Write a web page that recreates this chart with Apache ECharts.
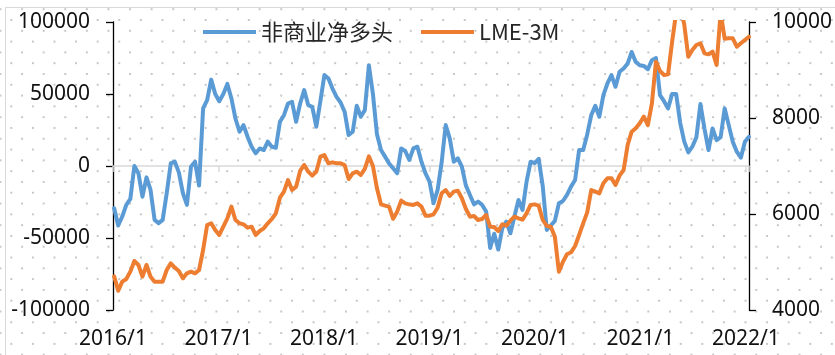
<!DOCTYPE html>
<html>
<head>
<meta charset="utf-8">
<script src="https://cdn.jsdelivr.net/npm/echarts@6/dist/echarts.min.js"></script>
<style>
  html, body { margin: 0; padding: 0; background: #fff; }
  #wrap { position: relative; width: 835px; height: 355px; overflow: hidden; }
  #dots {
    position: absolute; left: 0; top: 0; width: 100%; height: 100%;
    background-image:
      radial-gradient(circle, #c6c6c6 0.9px, rgba(255,255,255,0) 1.4px),
      radial-gradient(circle, #c6c6c6 0.9px, rgba(255,255,255,0) 1.4px);
    background-size: 21.6px 21.6px, 21.6px 21.6px;
    background-position: 0.5px 9.2px, 11.3px 20px;
  }
  #frame {
    position: absolute; left: 5px; top: 7px; width: 900px; height: 400px;
    border-left: 1.5px solid #d9d9d9; border-top: 1.5px solid #d9d9d9;
  }
  #chart { position: absolute; left: 0; top: 0; width: 835px; height: 355px; }
</style>
</head>
<body>
<div id="wrap">
  <div id="dots"></div>
  <div id="frame"></div>
  <div id="chart"></div>
</div>
<script>
// Fortnightly observations, first report 2016-01-05
const firstReport = '2016-01-05';
const stepDays = 14;

// Non-commercial net long positions (contracts)
const netLong = [
  -29300, -41300, -35100, -27000, -22900, 0, -5000, -21300, -7900, -16600, -37400, -39700, -37400,
  -18900, 1800, 3000, -4400, -18900, -27000, -500, 3000, -13600, 40000, 45700, 60000, 50000,
  45000, 50000, 57000, 46900, 33000, 23800, 28400, 20300, 13400, 8800, 12200, 11100, 16900,
  13400, 12700, 30700, 35300, 43400, 44600, 30700, 43400, 52700, 42300, 41100, 27300, 45000,
  63100, 60800, 53800, 48000, 44100, 37700, 21500, 23800, 41800, 34200, 38800, 70000, 50000,
  22000, 11100, 6500, 1800, -1600, -5000, 12200, 10400, 4200, 12200, 13400, 3000, -5100,
  -10900, -25900, -16600, 2500, 28400, 19200, 3000, 5300, -500, -13600, -20100, -26600, -24700,
  -27000, -31600, -57000, -47000, -58000, -43200, -38600, -46700, -35100, -23600, -30500, -10900, 3000,
  2000, 5000, -14000, -44400, -41300, -38100, -25900, -24300, -20100, -14300, -9700, 11100, 11100,
  21900, 35300, 41800, 34200, 49200, 57300, 63100, 55000, 65400, 67700, 71100, 79200, 72300,
  70000, 69500, 67200, 73500, 75000, 49200, 45000, 40000, 50000, 50000, 30000, 16900, 9500,
  13400, 20000, 43000, 26000, 11100, 26100, 18000, 20000, 40000, 28400, 16900, 9900, 5800, 16900, 20300
];

// LME 3-month copper (USD/t)
const lme3M = [
  4700, 4400, 4590, 4646, 4799, 5021, 4938, 4694, 4938, 4694, 4590, 4590, 4590,
  4833, 4972, 4882, 4813, 4660, 4764, 4799, 4764, 4833, 5250, 5771, 5806, 5667,
  5563, 5736, 5910, 6153, 5875, 5806, 5785, 5715, 5736, 5563, 5646, 5701, 5806,
  5896, 6014, 6340, 6465, 6708, 6500, 6569, 6896, 7021, 6882, 6799, 6882, 7194,
  7229, 7056, 7076, 7056, 7056, 7021, 6729, 6847, 6882, 6813, 6938, 7200, 7000,
  6535, 6201, 6174, 6153, 5900, 6049, 6278, 6222, 6201, 6188, 6222, 6153, 5965,
  5965, 5993, 6132, 6431, 6500, 6375, 6465, 6486, 6327, 6104, 5944, 5958, 5875,
  5896, 5979, 5736, 5729, 5646, 5785, 5757, 5861, 5944, 5910, 5882, 6014, 6188,
  6201, 6174, 5875, 5750, 5736, 5528, 4799, 5007, 5160, 5202, 5334, 5563, 5806,
  6035, 6500, 6465, 6431, 6639, 6743, 6743, 6604, 6799, 6917, 7438, 7715, 7785,
  7889, 8028, 7850, 8305, 9174, 8979, 8896, 8910, 9590, 10200, 10300, 9950, 9278,
  9417, 9521, 9556, 9347, 9326, 9382, 9104, 10200, 9650, 9660, 9660, 9486, 9556, 9625, 9694
];

const seriesNames = ['非商业净多头', 'LME-3M'];
const leftTicks = { min: -100000, max: 100000, step: 50000 };
const rightTicks = { min: 4000, max: 10000, step: 2000 };
const firstYear = 2016;

// Report dates -> fractional calendar year for the time scale
const DAY = 86400000;
const yearStart = Date.UTC(firstYear, 0, 1);
const t0 = Date.parse(firstReport + 'T00:00:00Z');
const reportDates = netLong.map((_, i) => t0 + i * stepDays * DAY);
const toYear = t => firstYear + (t - yearStart) / (365.25 * DAY);
const xs = reportDates.map(toYear);
const xMax = xs[xs.length - 1];

const numFont = 'Noto Sans';
const textColor = '#111';
const plain = v => String(v);

const chart = echarts.init(document.getElementById('chart'), null, { renderer: 'canvas' });

const xBase = {
  type: 'value', min: firstYear, max: xMax, interval: 1,
  splitLine: { show: false }
};

chart.setOption({
  backgroundColor: 'transparent',
  animation: false,
  grid: { left: 113, right: 85, top: 22, bottom: 45, containLabel: false },
  legend: {
    left: 203, top: 21, padding: 0,
    icon: 'rect', itemWidth: 53, itemHeight: 4, itemGap: 28,
    textStyle: { fontFamily: 'Noto Sans CJK SC', fontSize: 22, color: '#262626' },
    data: seriesNames
  },
  xAxis: [
    Object.assign({}, xBase, {
      position: 'bottom',
      axisLine: { show: true, onZero: true, onZeroAxisIndex: 0, lineStyle: { color: '#d9d9d9', width: 1.5 } },
      axisTick: { show: true, length: 6, lineStyle: { color: '#d9d9d9', width: 1.5 } },
      axisLabel: { show: false }
    }),
    Object.assign({}, xBase, {
      position: 'bottom',
      axisLine: { show: false, onZero: false },
      axisTick: { show: false },
      axisLabel: {
        show: true, margin: 19,
        fontFamily: numFont, fontSize: 21, color: textColor,
        formatter: v => Math.abs(v - Math.round(v)) < 1e-6 ? Math.round(v) + '/1' : ''
      }
    })
  ],
  yAxis: [
    {
      type: 'value', position: 'left',
      min: leftTicks.min, max: leftTicks.max, interval: leftTicks.step,
      splitLine: { show: false },
      axisLine: { show: true, onZero: false, lineStyle: { color: '#000', width: 1.3 } },
      axisTick: { show: true, length: 7, lineStyle: { color: '#000', width: 1.3 } },
      axisLabel: { margin: 23, fontFamily: numFont, fontSize: 21, color: textColor, formatter: plain }
    },
    {
      type: 'value', position: 'right',
      min: rightTicks.min, max: rightTicks.max, interval: rightTicks.step,
      splitLine: { show: false },
      axisLine: { show: true, onZero: false, lineStyle: { color: '#000', width: 1.3 } },
      axisTick: { show: true, length: 7, lineStyle: { color: '#000', width: 1.3 } },
      axisLabel: { margin: 23, fontFamily: numFont, fontSize: 21, color: textColor, formatter: plain }
    }
  ],
  series: [
    {
      name: seriesNames[0], type: 'line', xAxisIndex: 0, yAxisIndex: 0,
      data: xs.map((x, i) => [x, netLong[i]]),
      showSymbol: false, symbol: 'none', clip: true,
      itemStyle: { color: '#5B9BD5' },
      lineStyle: { color: '#5B9BD5', width: 4, cap: 'round', join: 'round' }
    },
    {
      name: seriesNames[1], type: 'line', xAxisIndex: 0, yAxisIndex: 1,
      data: xs.map((x, i) => [x, lme3M[i]]),
      showSymbol: false, symbol: 'none', clip: true,
      itemStyle: { color: '#ED7D31' },
      lineStyle: { color: '#ED7D31', width: 4, cap: 'round', join: 'round' }
    }
  ]
});
</script>
</body>
</html>
